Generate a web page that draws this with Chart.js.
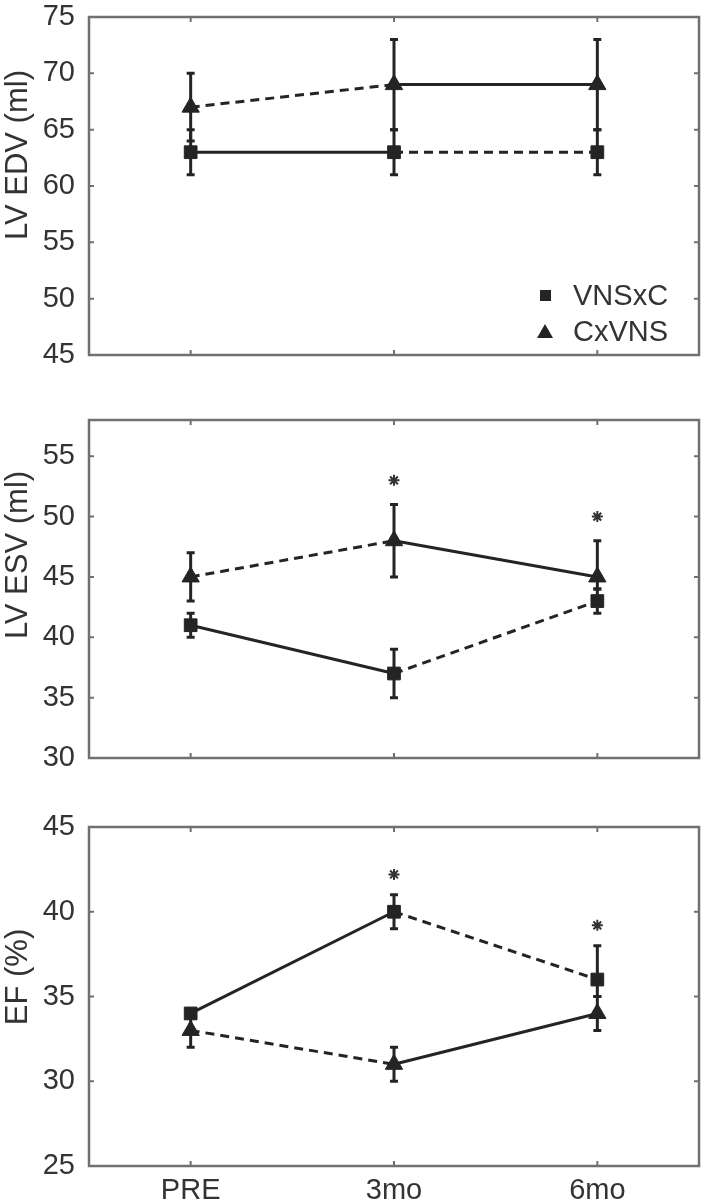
<!DOCTYPE html>
<html>
<head>
<meta charset="utf-8">
<title>LV EDV / ESV / EF</title>
<script src="https://cdn.jsdelivr.net/npm/chart.js@4.4.1/dist/chart.umd.min.js"></script>
<style>
  body {
    margin: 0;
    background: #fff;
    width: 710px;
    height: 1200px;
    position: relative;
    overflow: hidden;
    font-family: 'Liberation Sans', Arial, sans-serif;
  }
  .panel { position: absolute; left: 0; width: 710px; }
  .legend-row {
    position: absolute;
    left: 535px;
    height: 30px;
    display: flex;
    align-items: center;
    font-size: 29px;
    color: #333;
  }
  .legend-mark { width: 20px; display: flex; justify-content: center; margin-right: 18px; }
  .mark-square { width: 11px; height: 11px; background: #242424; }
  .mark-triangle {
    width: 0; height: 0;
    border-left: 8px solid transparent;
    border-right: 8px solid transparent;
    border-bottom: 14px solid #242424;
  }
</style>
</head>
<body>
<div class="panel" style="top:0;height:400px"><canvas id="edvChart" width="710" height="400"></canvas></div>
<div class="panel" style="top:400px;height:380px"><canvas id="esvChart" width="710" height="380"></canvas></div>
<div class="panel" style="top:780px;height:420px"><canvas id="efChart" width="710" height="420"></canvas></div>

<div class="legend-row" style="top:280px"><span class="legend-mark"><span class="mark-square"></span></span><span id="legVns"></span></div>
<div class="legend-row" style="top:316px"><span class="legend-mark"><span class="mark-triangle"></span></span><span id="legCx"></span></div>

<script>
// ---- datos ----
const timepoints = ['PRE', '3mo', '6mo'];
const seriesNames = ['VNSxC', 'CxVNS'];

// LV EDV (ml)
const edvVns = [63, 63, 63];
const edvVnsLow = [61, 61, 61];
const edvVnsHigh = [65, 65, 65];
const edvCx = [67, 69, 69];
const edvCxLow = [64, 65, 65];
const edvCxHigh = [70, 73, 73];
const edvStars = [null, null, null];
const edvTicks = [45, 50, 55, 60, 65, 70, 75];

// LV ESV (ml)
const esvVns = [41, 37, 43];
const esvVnsLow = [40, 35, 42];
const esvVnsHigh = [42, 39, 44];
const esvCx = [45, 48, 45];
const esvCxLow = [43, 45, 44];
const esvCxHigh = [47, 51, 48];
const esvStars = [null, 53, 50];
const esvTicks = [30, 35, 40, 45, 50, 55];

// EF (%)
const efVns = [34, 40, 36];
const efVnsLow = [34, 39, 35];
const efVnsHigh = [34, 41, 38];
const efCx = [33, 31, 34];
const efCxLow = [32, 30, 33];
const efCxHigh = [34, 32, 35];
const efStars = [null, 42.2, 39.2];
const efTicks = [25, 30, 35, 40, 45];

// ---- estilo ----
const INK = '#242424';
const FRAME = '#707070';
const TEXT = '#333333';
const FONT = "'Liberation Sans', Arial, sans-serif";
const DASH = [9, 6];

document.getElementById('legVns').textContent = seriesNames[0];
document.getElementById('legCx').textContent = seriesNames[1];

// barras de error (debajo de los marcadores)
const errorBarsPlugin = {
  id: 'errorBars',
  beforeDatasetsDraw(chart) {
    const ctx = chart.ctx;
    const y = chart.scales.y;
    ctx.save();
    ctx.strokeStyle = INK;
    ctx.lineWidth = 3;
    chart.data.datasets.forEach((ds, i) => {
      if (!ds.errLow) return;
      chart.getDatasetMeta(i).data.forEach((pt, j) => {
        const yLo = y.getPixelForValue(ds.errLow[j]);
        const yHi = y.getPixelForValue(ds.errHigh[j]);
        ctx.beginPath();
        ctx.moveTo(pt.x, yLo); ctx.lineTo(pt.x, yHi);
        ctx.moveTo(pt.x - 4, yLo); ctx.lineTo(pt.x + 4, yLo);
        ctx.moveTo(pt.x - 4, yHi); ctx.lineTo(pt.x + 4, yHi);
        ctx.stroke();
      });
    });
    ctx.restore();
  }
};

// marco con marcas hacia adentro en los cuatro lados
const framePlugin = {
  id: 'frame',
  afterDraw(chart) {
    const { ctx, chartArea: a } = chart;
    const x = chart.scales.x;
    const y = chart.scales.y;
    const len = 5;
    ctx.save();
    ctx.strokeStyle = FRAME;
    ctx.lineWidth = 2.5;
    ctx.strokeRect(a.left, a.top, a.right - a.left, a.bottom - a.top);
    ctx.lineWidth = 2;
    ctx.beginPath();
    y.ticks.forEach((t, i) => {
      const py = y.getPixelForTick(i);
      ctx.moveTo(a.left, py); ctx.lineTo(a.left + len, py);
      ctx.moveTo(a.right, py); ctx.lineTo(a.right - len, py);
    });
    x.ticks.forEach((t, i) => {
      const px = x.getPixelForTick(i);
      ctx.moveTo(px, a.top); ctx.lineTo(px, a.top + len);
      ctx.moveTo(px, a.bottom); ctx.lineTo(px, a.bottom - len);
    });
    ctx.stroke();
    ctx.restore();
  }
};

// título vertical del eje Y
const yTitlePlugin = {
  id: 'yTitle',
  afterDraw(chart, args, opts) {
    const ctx = chart.ctx;
    ctx.save();
    ctx.translate(opts.x, opts.y);
    ctx.rotate(-Math.PI / 2);
    ctx.font = `31px ${FONT}`;
    ctx.fillStyle = TEXT;
    ctx.textAlign = 'center';
    ctx.textBaseline = 'middle';
    ctx.fillText(opts.text, 0, 0);
    ctx.restore();
  }
};

function buildPanel(id, p) {
  return new Chart(document.getElementById(id), {
    type: 'line',
    data: {
      labels: timepoints,
      datasets: [
        {
          label: seriesNames[0],
          data: p.vns,
          errLow: p.vnsLow,
          errHigh: p.vnsHigh,
          borderColor: INK,
          backgroundColor: INK,
          borderWidth: 3,
          pointStyle: 'rect',
          pointRadius: 9,
          pointBorderWidth: 1,
          segment: { borderDash: (c) => (c.p0DataIndex === 0 ? [] : DASH) },
        },
        {
          label: seriesNames[1],
          data: p.cx,
          errLow: p.cxLow,
          errHigh: p.cxHigh,
          borderColor: INK,
          backgroundColor: INK,
          borderWidth: 3,
          pointStyle: 'triangle',
          pointRadius: 10,
          pointBorderWidth: 1,
          segment: { borderDash: (c) => (c.p0DataIndex === 0 ? DASH : []) },
        },
        {
          label: '*',
          data: p.stars,
          showLine: false,
          borderColor: TEXT,
          backgroundColor: TEXT,
          pointStyle: 'star',
          pointRadius: 5.5,
          pointBorderWidth: 2,
        },
      ],
    },
    options: {
      responsive: false,
      animation: false,
      devicePixelRatio: 1,
      layout: { padding: { top: p.padTop, right: 7, left: 0, bottom: 0 } },
      plugins: {
        legend: { display: false },
        tooltip: { enabled: false },
        yTitle: { text: p.title, x: 18, y: p.titleY },
      },
      scales: {
        x: {
          offset: true,
          grid: { display: false, drawTicks: false },
          border: { display: false },
          ticks: {
            display: p.showX,
            color: TEXT,
            font: { size: 29, family: FONT, lineHeight: 1 },
            padding: 10,
          },
          afterFit: (s) => {
            s.height = p.xHeight;
            s.paddingLeft = 0;
            s.paddingRight = 0;
          },
        },
        y: {
          min: p.min,
          max: p.max,
          afterBuildTicks: (s) => { s.ticks = p.ticks.map((v) => ({ value: v })); },
          grid: { display: false, drawTicks: false },
          border: { display: false },
          ticks: {
            color: TEXT,
            font: { size: 29, family: FONT, lineHeight: 1 },
            padding: 14,
          },
          afterFit: (s) => {
            s.width = 89;
            s.paddingTop = 0;
            s.paddingBottom = 0;
          },
        },
      },
    },
    plugins: [errorBarsPlugin, framePlugin, yTitlePlugin],
  });
}

buildPanel('edvChart', {
  title: 'LV EDV (ml)', titleY: 155,
  vns: edvVns, vnsLow: edvVnsLow, vnsHigh: edvVnsHigh,
  cx: edvCx, cxLow: edvCxLow, cxHigh: edvCxHigh,
  stars: edvStars, ticks: edvTicks, min: 45, max: 75,
  padTop: 17, xHeight: 45, showX: false,
});

buildPanel('esvChart', {
  title: 'LV ESV (ml)', titleY: 155,
  vns: esvVns, vnsLow: esvVnsLow, vnsHigh: esvVnsHigh,
  cx: esvCx, cxLow: esvCxLow, cxHigh: esvCxHigh,
  stars: esvStars, ticks: esvTicks, min: 30, max: 58,
  padTop: 20, xHeight: 22, showX: false,
});

buildPanel('efChart', {
  title: 'EF (%)', titleY: 197,
  vns: efVns, vnsLow: efVnsLow, vnsHigh: efVnsHigh,
  cx: efCx, cxLow: efCxLow, cxHigh: efCxHigh,
  stars: efStars, ticks: efTicks, min: 25, max: 45,
  padTop: 47, xHeight: 34, showX: true,
});
</script>
</body>
</html>
